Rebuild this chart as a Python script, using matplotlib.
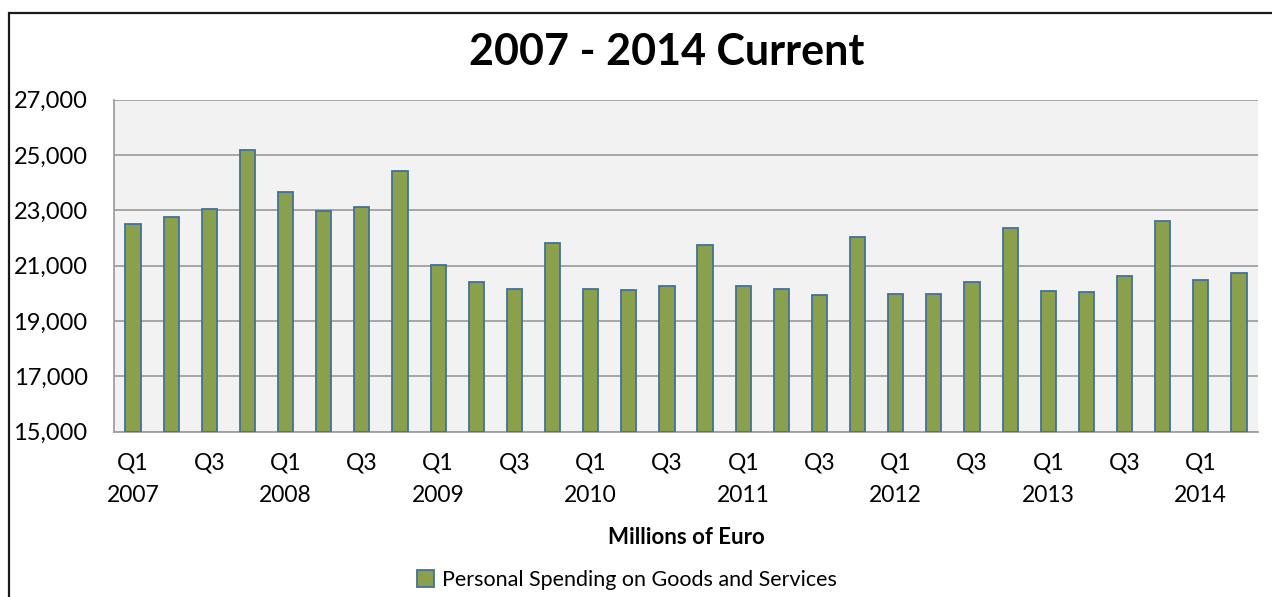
import matplotlib
matplotlib.use("Agg")
import matplotlib.pyplot as plt
import numpy as np
from matplotlib.patches import Rectangle, Patch
from matplotlib.ticker import FuncFormatter

plt.rcParams['font.family'] = ['Lato', 'DejaVu Sans']

# Quarterly personal spending, 2007 Q1 - 2014 Q2 (millions of euro)
quarters = ["Q1", "Q2", "Q3", "Q4"]
years = list(range(2007, 2015))
spending = [
    22520, 22760, 23040, 25160,   # 2007
    23670, 22990, 23120, 24400,   # 2008
    21010, 20400, 20170, 21820,   # 2009
    20170, 20110, 20270, 21730,   # 2010
    20270, 20170, 19940, 22050,   # 2011
    19960, 19960, 20410, 22350,   # 2012
    20100, 20060, 20640, 22600,   # 2013
    20480, 20750,                 # 2014
]
y_ticks = [15000, 17000, 19000, 21000, 23000, 25000, 27000]
series_name = "Personal Spending on Goods and Services"
title = "2007 - 2014 Current"
x_label = "Millions of Euro"

labels = []
for i in range(len(spending)):
    q = quarters[i % 4]
    y = years[i // 4]
    if q == "Q1":
        labels.append(f"Q1\n{y}")
    elif q == "Q3":
        labels.append("Q3\n ")
    else:
        labels.append("")

W, H = 1272, 597
fig = plt.figure(figsize=(W / 100, H / 100), dpi=100)
fig.patch.set_facecolor("white")

# outer chart border
fig.add_artist(Rectangle((9 / W, -0.05), 1.2, 1 - 13 / H + 0.05,
                         transform=fig.transFigure, fill=False,
                         edgecolor="#1a1a1a", linewidth=1.6))

ax = fig.add_axes([114 / W, 1 - 431.7 / H, (1258 - 114) / W, (431.7 - 99.5) / H])
ax.set_facecolor("#F2F2F2")

xs = np.arange(len(spending))
ax.bar(xs, [v - y_ticks[0] for v in spending], bottom=y_ticks[0], width=0.40,
       color="#8AA04A", edgecolor="#41719C", linewidth=1.3, zorder=3)

ax.set_xlim(-0.5, len(spending) - 0.5)
ax.set_ylim(y_ticks[0], y_ticks[-1])
ax.set_yticks(y_ticks)
ax.yaxis.set_major_formatter(FuncFormatter(lambda v, p: f"{int(v):,}"))
ax.grid(axis="y", color="#A0A0A0", linewidth=1.3, zorder=1)
ax.set_axisbelow(True)

ax.set_xticks(xs)
ax.set_xticklabels(labels, fontsize=16.5, linespacing=1.65)
ax.tick_params(axis="x", length=0, pad=15)
ax.tick_params(axis="y", length=0, pad=19, labelsize=17)

for side in ("top", "right"):
    ax.spines[side].set_visible(False)
for side in ("left", "bottom"):
    ax.spines[side].set_color("#A0A0A0")
    ax.spines[side].set_linewidth(1.3)

fig.text(667 / W, 1 - 52 / H, title, ha="center", va="center",
         fontsize=31, fontweight="bold")
fig.text(686 / W, 1 - 537 / H, x_label, ha="center", va="center",
         fontsize=16, fontweight="bold")

handle = Patch(facecolor="#8AA04A", edgecolor="#41719C", linewidth=1.3)
fig.legend([handle], [series_name], loc="center", bbox_to_anchor=(627 / W, 1 - 580 / H),
           frameon=False, fontsize=15.5, handlelength=0.8, handleheight=0.8,
           handletextpad=0.4, borderaxespad=0)

fig.savefig("out.png", dpi=100)
